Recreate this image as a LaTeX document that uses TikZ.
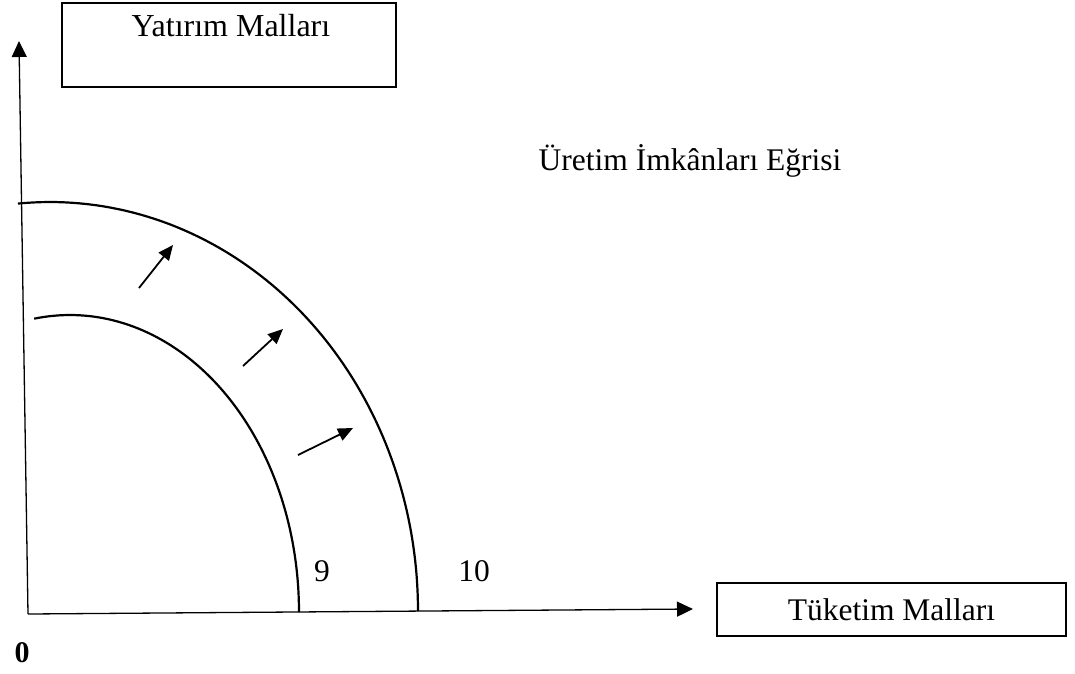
\documentclass[tikz,border=0pt]{standalone}
\usepackage{fontspec}
\setmainfont{Liberation Serif}
\usetikzlibrary{arrows.meta}
\begin{document}
\begin{tikzpicture}[x=1pt,y=-1pt,
  axis/.style={line width=1.3pt,-{Triangle[length=16pt,width=15pt]}},
  curve/.style={line width=2.2pt},
  shiftarrow/.style={line width=1.8pt,-{Triangle[length=15pt,width=13pt]}},
  labelbox/.style={draw,line width=2.4pt,inner sep=0pt},
  lbl/.style={inner sep=0pt,font=\fontsize{31.5}{36}\selectfont}]
\useasboundingbox (0,0) rectangle (1075,673);

% axes
\coordinate (O) at (28,614);
\coordinate (ytip) at (19,41);
\coordinate (xtip) at (693,609);
\draw[axis] (O) -- (ytip);
\draw[axis] (O) -- (xtip);

% axis captions in boxes
\node[labelbox,minimum width=334pt,minimum height=84pt] (ybox) at (229,45) {};
\node[lbl,font=\fontsize{32}{36}\selectfont] (ylab) at (231,26) {Yatırım Malları};
\node[labelbox,minimum width=349pt,minimum height=53pt,lbl] (xbox) at (891.5,609.5) {Tüketim Malları};

% production possibility curves
\draw[curve] plot[domain=0:99,samples=80] ({70+229*cos(\x)},{612-297*sin(\x)});
\draw[curve] plot[domain=0:95,samples=80] ({50+368*cos(\x)},{611-409*sin(\x)});

% outward shift arrows
\coordinate (s1) at (139,288); \coordinate (e1) at (173,245);
\coordinate (s2) at (243,366); \coordinate (e2) at (283,329);
\coordinate (s3) at (298,455); \coordinate (e3) at (353,428);
\draw[shiftarrow] (s1) -- (e1);
\draw[shiftarrow] (s2) -- (e2);
\draw[shiftarrow] (s3) -- (e3);

% texts
\node[lbl] (title) at (690,161) {Üretim İmkânları Eğrisi};
\node[lbl] (nine) at (322,571) {9};
\node[lbl] (ten) at (474,571) {10};
\node[lbl,font=\fontsize{30}{36}\selectfont\bfseries] (zero) at (22,653) {0};
\end{tikzpicture}
\end{document}
